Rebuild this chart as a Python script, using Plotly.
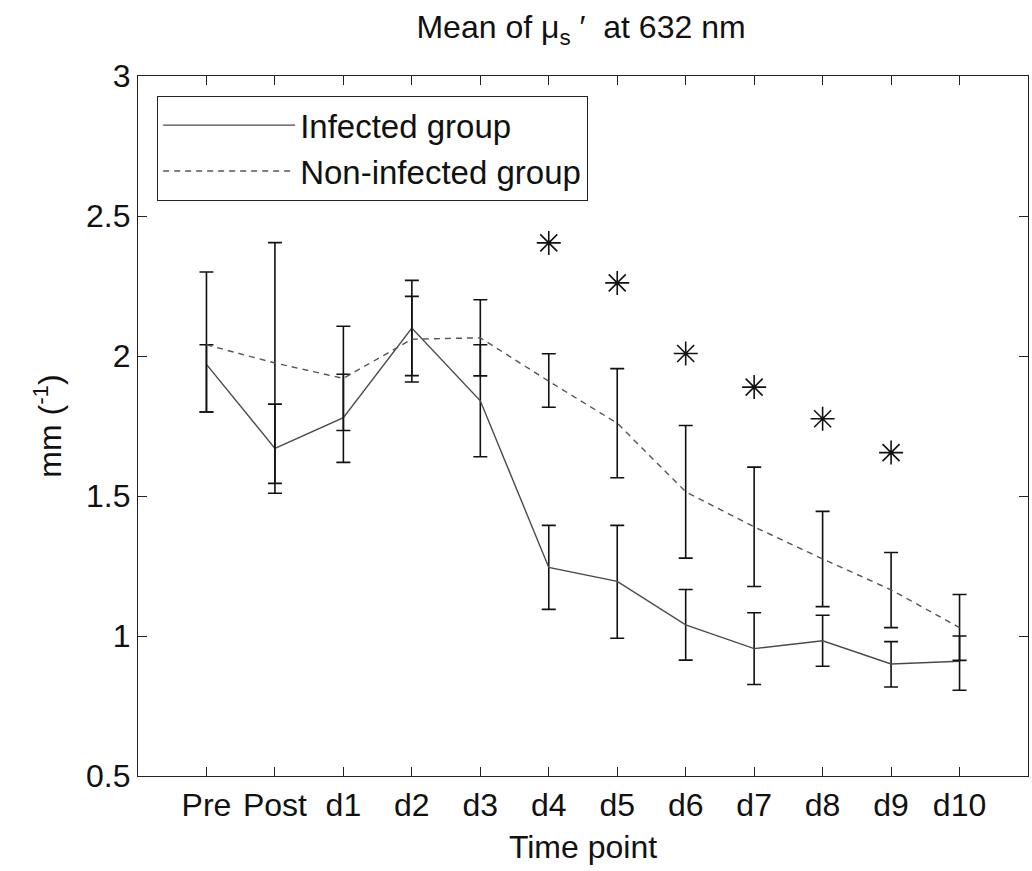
import plotly.graph_objects as go

categories = ["Pre", "Post", "d1", "d2", "d3", "d4", "d5", "d6", "d7", "d8", "d9", "d10"]

infected_mean = [1.97, 1.67, 1.78, 2.10, 1.84, 1.245, 1.195, 1.04, 0.955, 0.983, 0.90, 0.91]
infected_err_up = [0.07, 0.158, 0.155, 0.17, 0.20, 0.15, 0.20, 0.126, 0.128, 0.091, 0.08, 0.09]
infected_err_down = [0.17, 0.16, 0.16, 0.17, 0.20, 0.15, 0.203, 0.126, 0.128, 0.091, 0.082, 0.104]

noninfected_mean = [2.04, 1.975, 1.92, 2.06, 2.065, 1.91, 1.76, 1.515, 1.39, 1.275, 1.165, 1.03]
noninfected_err_up = [0.26, 0.43, 0.186, 0.153, 0.136, 0.098, 0.195, 0.237, 0.213, 0.17, 0.133, 0.118]
noninfected_err_down = [0.24, 0.43, 0.186, 0.153, 0.136, 0.093, 0.195, 0.237, 0.213, 0.17, 0.135, 0.117]

star_categories = ["d4", "d5", "d6", "d7", "d8", "d9"]
star_values = [2.404, 2.261, 2.009, 1.889, 1.776, 1.655]

font_family = "Liberation Sans, Arial, sans-serif"

fig = go.Figure()

fig.add_trace(go.Scatter(
    x=categories, y=infected_mean, mode="lines", name="Infected group",
    line=dict(color="#4a4a4a", width=1.4),
    error_y=dict(type="data", symmetric=False, array=infected_err_up,
                 arrayminus=infected_err_down, color="#111111", thickness=1.6, width=7),
))
fig.add_trace(go.Scatter(
    x=categories, y=noninfected_mean, mode="lines", name="Non-infected group",
    line=dict(color="#555555", width=1.4, dash="6px,5px"),
    error_y=dict(type="data", symmetric=False, array=noninfected_err_up,
                 arrayminus=noninfected_err_down, color="#111111", thickness=1.6, width=7),
))
fig.add_trace(go.Scatter(
    x=star_categories, y=star_values, mode="markers", showlegend=False,
    marker=dict(symbol="asterisk-open", size=20, color="#111111",
                line=dict(color="#111111", width=1.6)),
))

axis_common = dict(
    showline=True, linecolor="#222222", linewidth=1.2, mirror="allticks",
    ticks="inside", ticklen=9, tickwidth=1.2, tickcolor="#222222",
    showgrid=False, zeroline=False,
    tickfont=dict(family=font_family, size=32, color="#111111"),
)

fig.update_layout(
    width=1032, height=871,
    margin=dict(l=138, r=4, t=76, b=95),
    paper_bgcolor="white", plot_bgcolor="white",
    font=dict(family=font_family, color="#111111"),
    title=dict(text="Mean of μ<sub>s</sub> ′  at 632 nm", x=0.563, xanchor="center",
               y=1 - 27 / 871, yanchor="middle", yref="container",
               font=dict(size=32, family=font_family, color="#111111")),
    xaxis=dict(**axis_common, type="category", categoryorder="array",
               categoryarray=categories, range=[-1, 12],
               title=dict(text="Time point", font=dict(size=32, family=font_family), standoff=14)),
    yaxis=dict(**axis_common, range=[0.5, 3], dtick=0.5, tick0=0.5,
               title=dict(text="mm (<sup>-1</sup>)", font=dict(size=32, family=font_family), standoff=14)),
    legend=dict(x=0.0213, y=0.9714, xanchor="left", yanchor="top",
                bordercolor="#222222", borderwidth=1.2, bgcolor="white",
                font=dict(size=33, family=font_family, color="#111111"),
                itemwidth=132, tracegroupgap=0),
)

fig.write_html("out.html")
